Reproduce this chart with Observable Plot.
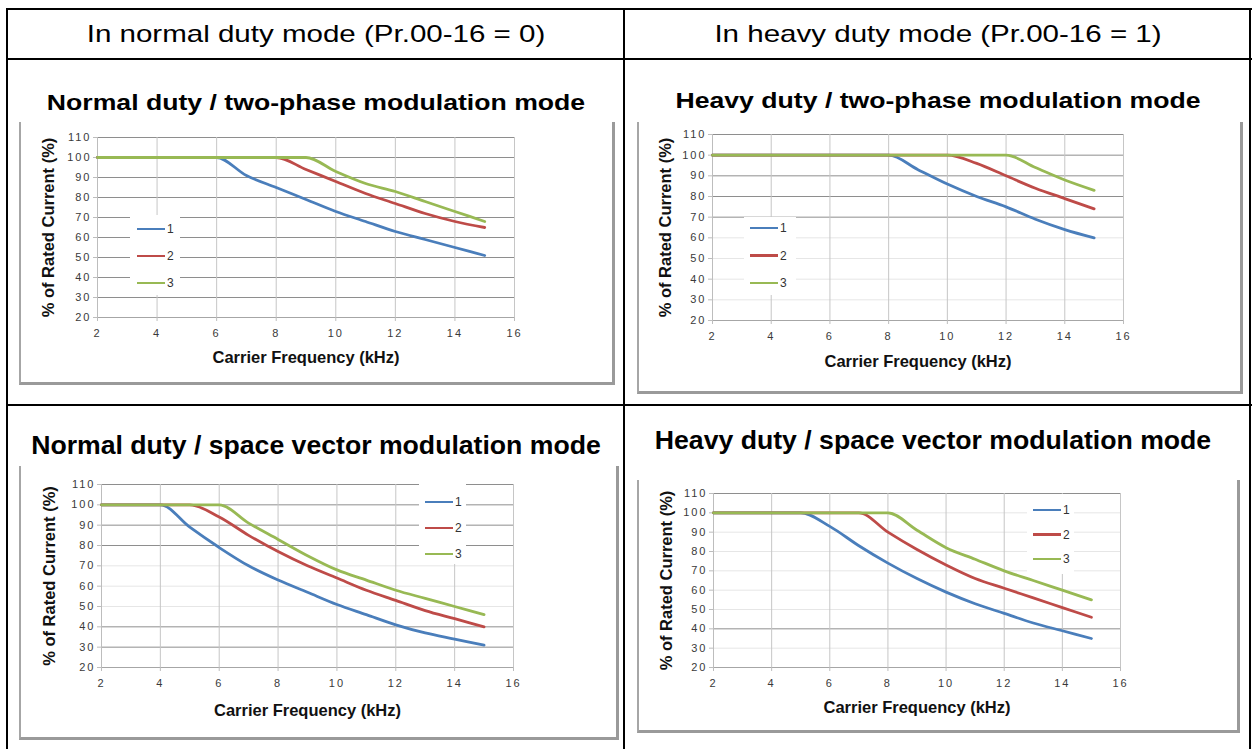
<!DOCTYPE html>
<html><head><meta charset="utf-8">
<script src="https://cdn.jsdelivr.net/npm/d3@7"></script>
<script src="https://cdn.jsdelivr.net/npm/@observablehq/plot@0.6"></script>
<style>
body{margin:0;background:#fff;font-family:"Liberation Sans",Arial,sans-serif;}
#page{position:relative;width:1258px;height:749px;overflow:hidden;background:#fff;}
.b{position:absolute;background:#000;}
.hdr{position:absolute;font-size:24px;color:#000;white-space:nowrap;transform:translate(-50%,-50%) scaleX(1.23);}
.ttl{position:absolute;font-weight:bold;font-size:22px;color:#000;white-space:nowrap;transform:translate(-50%,-50%) scaleX(1.21);}
.ttl.narrow{font-size:25px;transform:translate(-50%,-50%) scaleX(1.065);}
.box{position:absolute;border-left:2px solid #a6a6a6;border-right:3px solid #9a9a9a;border-bottom:3px solid #9a9a9a;box-sizing:border-box;}
.chart{position:absolute;}
.chart svg{overflow:visible;}
.lg{position:absolute;background:#fff;}
.lgi{position:absolute;font-size:12px;color:#333;line-height:12px;}
</style>
</head><body><div id="page"></div>
<script>
// ---------- data ----------
const freqKHz = [2,3,4,5,6,7,8,9,10,11,12,13,14,15];
const seriesNames = ["1","2","3"];
const seriesColors = ["#4A7EBB","#BE4B48","#98B954"];
const xTicks = [2,4,6,8,10,12,14,16];
const yTicks = [20,30,40,50,60,70,80,90,100,110];
const headerLeft = "In normal duty mode (Pr.00-16 = 0)";
const headerRight = "In heavy duty mode (Pr.00-16 = 1)";
const xLabel = "Carrier Frequency (kHz)";
const yLabel = "% of Rated Current (%)";

// Normal duty / two-phase modulation mode
const ndTp1 = [100,100,100,100,100,91,85,79,73,68,63,59,55,51];
const ndTp2 = [100,100,100,100,100,100,100,94,88,82,77,72,68,65];
const ndTp3 = [100,100,100,100,100,100,100,100,93,87,83,78,73,68];
// Heavy duty / two-phase modulation mode
const hdTp1 = [100,100,100,100,100,100,100,93,86,80,75,69,64,60];
const hdTp2 = [100,100,100,100,100,100,100,100,100,96,90,84,79,74];
const hdTp3 = [100,100,100,100,100,100,100,100,100,100,100,94,88,83];
// Normal duty / space vector modulation mode
const ndSv1 = [100,100,100,89,79,70,63,57,51,46,41,37,34,31];
const ndSv2 = [100,100,100,100,94,85,77,70,64,58,53,48,44,40];
const ndSv3 = [100,100,100,100,100,91,83,75,68,63,58,54,50,46];
// Heavy duty / space vector modulation mode
const hdSv1 = [100,100,100,100,93,83,74,66,59,53,48,43,39,35];
const hdSv2 = [100,100,100,100,100,100,90,81,73,66,61,56,51,46];
const hdSv3 = [100,100,100,100,100,100,100,91,82,76,70,65,60,55];

const titles = [
  "Normal duty / two-phase modulation mode",
  "Heavy duty / two-phase modulation mode",
  "Normal duty / space vector modulation mode",
  "Heavy duty / space vector modulation mode"
];
// horizontal gridlines that show strongly in each panel
const gridDark1 = [30,40,50,60,70,80,90,100,110];
const gridDark2 = [70,80,90,100,110];
const gridDark3 = [30,40,80,90,100,110];
const gridDark4 = [40,110];

// ---------- layout ----------
const page = document.getElementById("page");
function el(cls, css, text){
  const d = document.createElement("div"); d.className = cls;
  Object.assign(d.style, css); if (text) d.textContent = text;
  page.appendChild(d); return d;
}
// table borders
el("b",{left:"6px",top:"8px",width:"1246px",height:"2px"});
el("b",{left:"6px",top:"58px",width:"1246px",height:"2px"});
el("b",{left:"6px",top:"404px",width:"1246px",height:"2px"});
el("b",{left:"6px",top:"8px",width:"2px",height:"760px"});
el("b",{left:"623px",top:"8px",width:"2px",height:"760px"});
el("b",{left:"1249px",top:"8px",width:"2px",height:"760px"});
el("hdr",{left:"316px",top:"34px"},headerLeft);
el("hdr",{left:"938px",top:"34px"},headerRight);

const panels = [
  {series:[ndTp1,ndTp2,ndTp3], grid:gridDark1, title:titles[0], tx:316, ty:103, narrow:false,
   box:[19,122,596,263], svg:[20,125,590,250], m:[12,96,58,77], xOff:40, yOff:49,
   lg:{bg:[130,215,50,80], x:137, y:229, gap:27}},
  {series:[hdTp1,hdTp2,hdTp3], grid:gridDark2, title:titles[1], tx:938, ty:101, narrow:false,
   box:[637,122,606,272], svg:[630,122,600,250], m:[12,107,52,82], xOff:41, yOff:47,
   lg:{bg:[744,217,52,78], x:750, y:228, gap:27.5}},
  {series:[ndSv1,ndSv2,ndSv3], grid:gridDark3, title:titles[2], tx:316, ty:445, narrow:true,
   box:[19,466,600,274], svg:[20,470,590,260], m:[14,97,63,81], xOff:43, yOff:52,
   lg:{bg:[419,484,47,80], x:425, y:502, gap:26}},
  {series:[hdSv1,hdSv2,hdSv3], grid:gridDark4, title:titles[3], tx:933, ty:440, narrow:true,
   box:[637,480,603,253], svg:[630,480,600,250], m:[13,110,63,83], xOff:40, yOff:47,
   lg:{bg:[1027,494,47,80], x:1033, y:510, gap:24.5}}
];

panels.forEach(p => {
  el("box",{left:p.box[0]+"px",top:p.box[1]+"px",width:p.box[2]+"px",height:p.box[3]+"px"});
  el(p.narrow ? "ttl narrow" : "ttl",{left:p.tx+"px",top:p.ty+"px"},p.title);
  const rows = [];
  p.series.forEach((vals,i) => vals.forEach((v,j) => rows.push({f:freqKHz[j], v, s:seriesNames[i]})));
  const gridFaint = yTicks.filter(t => t > 20 && !p.grid.includes(t));
  const chart = Plot.plot({
    width:p.svg[2], height:p.svg[3],
    marginTop:p.m[0], marginRight:p.m[1], marginBottom:p.m[2], marginLeft:p.m[3],
    x:{domain:[2,16]}, y:{domain:[20,110]},
    color:{domain:seriesNames, range:seriesColors},
    style:{fontFamily:"Liberation Sans, Arial, sans-serif", fontSize:"11px", color:"#3a3a3a", background:"transparent", overflow:"visible"},
    marks:[
      Plot.gridY(gridFaint,{stroke:"#e6e6e6", strokeOpacity:1}),
      Plot.gridY(p.grid,{stroke:"#8e8e8e", strokeOpacity:1}),
      Plot.gridX(xTicks.slice(1),{stroke:"#c6c6c6", strokeOpacity:1}),
      Plot.ruleX([2],{stroke:"#bdbdbd"}),
      Plot.ruleY([20],{stroke:"#a6a6a6"}),
      Plot.axisX(xTicks,{tickSize:4, tickPadding:8, stroke:"#bdbdbd", label:null}),
      Plot.axisY(yTicks,{tickSize:4, tickPadding:2, stroke:"#bdbdbd", label:null}),
      Plot.text([xLabel],{frameAnchor:"bottom", dy:p.xOff, lineAnchor:"middle", fontWeight:"bold", fontSize:16.5, fill:"#111"}),
      Plot.text([yLabel],{frameAnchor:"left", dx:-p.yOff, rotate:-90, textAnchor:"middle", lineAnchor:"middle", fontWeight:"bold", fontSize:16.5, fill:"#111"}),
      Plot.line(rows,{x:"f", y:"v", z:"s", stroke:"s", strokeWidth:2.8, curve:"monotone-x"})
    ]
  });
  // widen the numeric tick labels (the reference's digits are broad)
  chart.querySelectorAll("text").forEach(t => {
    if (/^\d+$/.test(t.textContent.trim())) t.setAttribute("letter-spacing","2px");
  });
  const holder = el("chart",{left:p.svg[0]+"px",top:p.svg[1]+"px"});
  holder.appendChild(chart);
  // legend
  const g = p.lg;
  el("lg",{left:g.bg[0]+"px",top:g.bg[1]+"px",width:g.bg[2]+"px",height:g.bg[3]+"px"});
  seriesNames.forEach((name,i) => {
    const y = g.y + i*g.gap;
    el("lgi",{left:g.x+"px",top:(y-1.4)+"px",width:"28px",height:"2.8px",background:seriesColors[i]});
    el("lgi",{left:(g.x+30)+"px",top:(y-6)+"px"},name);
  });
});
</script>
</body></html>
